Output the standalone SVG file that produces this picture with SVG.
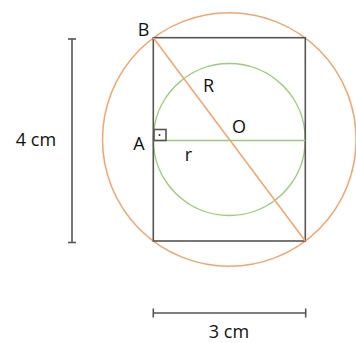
<svg xmlns="http://www.w3.org/2000/svg" width="356" height="343" viewBox="0 0 356 343">
<style>
.t{font-family:"Open Sans","Liberation Sans",sans-serif;font-size:18px;fill:#111;text-anchor:middle}
.k{stroke:#555;stroke-width:1.6;fill:none}
.o{stroke:#F4A46E;stroke-width:1.5;fill:none}
.g{stroke:#9DCB7E;stroke-width:1.5;fill:none}
</style>
<rect width="356" height="343" fill="#fff"/>
<g id="outer-circle"><circle class="o" cx="229.3" cy="139.5" r="126.8"/></g>
<g id="inner-circle"><circle class="g" cx="229.3" cy="139.5" r="76"/></g>
<g id="rectangle"><rect class="k" x="153.3" y="37.7" width="152" height="203.3"/></g>
<g id="connectors">
<line class="o" x1="153.3" y1="37.7" x2="305.3" y2="241"/>
<line class="g" x1="153.3" y1="140.5" x2="305.3" y2="140.5"/>
<rect class="k" x="154" y="129.5" width="12" height="11"/>
<circle cx="159.5" cy="135" r="1" fill="#333"/>
<line class="k" x1="72" y1="39" x2="72" y2="242.5"/>
<line class="k" x1="68" y1="39" x2="76" y2="39"/>
<line class="k" x1="68" y1="242.5" x2="76" y2="242.5"/>
<line class="k" x1="153.3" y1="313" x2="305.7" y2="313"/>
<line class="k" x1="153.3" y1="308.5" x2="153.3" y2="317.5"/>
<line class="k" x1="305.7" y1="308.5" x2="305.7" y2="317.5"/>
</g>
<g id="labels">
<text class="t" x="143.5" y="36">B</text>
<text class="t" x="139" y="150">A</text>
<text class="t" x="208.5" y="91.5">R</text>
<text class="t" x="239" y="132.5">O</text>
<text class="t" x="188.5" y="160.5">r</text>
<text class="t" x="36" y="146">4 cm</text>
<text class="t" x="229" y="338">3 cm</text>
</g>
</svg>
